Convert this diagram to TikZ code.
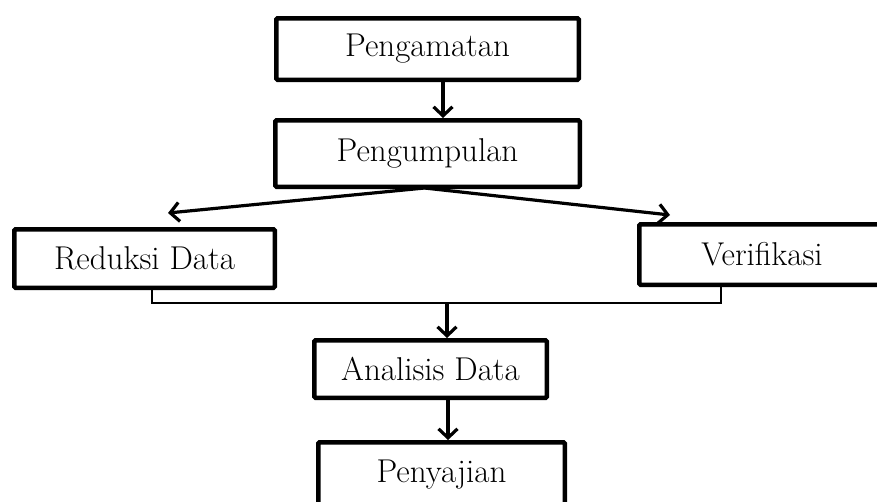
\documentclass[tikz,border=0pt]{standalone}
\usetikzlibrary{arrows.meta,calc}
\begin{document}
\begin{tikzpicture}[x=1pt,y=-1pt,
  box/.style={draw=black,line width=4.5pt,rounded corners=1.2pt,fill=white,inner sep=0pt,
    font=\fontsize{33}{38}\selectfont},
  arr/.style={line width=3.2pt,-{Straight Barb[length=9pt,width=19pt,line width=3.2pt]}},
  bracket/.style={line width=2.4pt}]
\useasboundingbox (0,0) rectangle (877,501);
\fill[white] (0,0) rectangle (877,501);
\node[box,minimum width=302.5pt,minimum height=61.5pt] (pa) at (427.5,49) {Pengamatan};
\node[box,minimum width=304.5pt,minimum height=66.5pt] (pu) at (427.5,153.5) {Pengumpulan};
\node[box,minimum width=260.5pt,minimum height=58.5pt] (rd) at (144.5,258.5) {Reduksi Data};
\node[box,minimum width=245.5pt,minimum height=60.5pt] (vf) at (762,254.5) {Verifikasi};
\node[box,minimum width=232.5pt,minimum height=57.5pt] (an) at (430.5,369) {Analisis Data};
\node[box,minimum width=246.5pt,minimum height=65.5pt] (py) at (441.5,475) {Penyajian};
% arrows
\draw[arr] ([xshift=15.5pt]pa.south) -- ([xshift=15.5pt]pa.south |- pu.north);
\coordinate (fork) at ($(pu.south)+(-3,-1)$);
\coordinate (rt) at ($(rd.north)+(23.5,-14)$);
\coordinate (vt) at ($(vf.north)+(-92,-7)$);
\draw[arr] (fork) -- (rt);
\draw[arr] (fork) -- (vt);
\coordinate (bm) at (447,303);
\draw[bracket] ([xshift=7.5pt]rd.south) |- (bm) -| ([xshift=-41pt]vf.south);
\draw[arr] (bm) -- (bm |- an.north);
\draw[arr] ([xshift=17.5pt]an.south) -- ([xshift=17.5pt]an.south |- py.north);
\end{tikzpicture}
\end{document}
